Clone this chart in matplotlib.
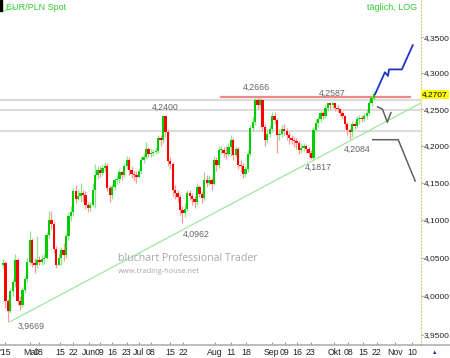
#!/usr/bin/env python3
"""EUR/PLN daily candles, log scale, with trend lines and projections."""
import numpy as np
import matplotlib
matplotlib.use("Agg")
import matplotlib.pyplot as plt
from matplotlib.ticker import FixedLocator, FuncFormatter, NullLocator

plt.rcParams["font.family"] = ["Liberation Sans", "DejaVu Sans"]

# daily candles (open = previous close)
FIRST_OPEN = 4.040
CLOSE = [
    4.043, 3.994, 3.981, 4.006, 4.018, 4.047, 3.994, 3.989, 4.008, 4.022,
    4.045, 4.074, 4.043, 4.041, 4.047, 4.045, 4.048, 4.050, 4.080, 4.100,
    4.094, 4.061, 4.041, 4.050, 4.060, 4.054, 4.078, 4.105, 4.110, 4.138,
    4.128, 4.132, 4.136, 4.133, 4.120, 4.116, 4.120, 4.140, 4.160, 4.167,
    4.163, 4.170, 4.172, 4.143, 4.133, 4.144, 4.153, 4.155, 4.164, 4.160,
    4.172, 4.181, 4.167, 4.162, 4.160, 4.158, 4.165, 4.180, 4.185, 4.196,
    4.189, 4.190, 4.191, 4.193, 4.210, 4.207, 4.240, 4.218, 4.179, 4.175,
    4.140, 4.136, 4.131, 4.113, 4.109, 4.115, 4.136, 4.132, 4.128, 4.124,
    4.144, 4.135, 4.129, 4.154, 4.150, 4.154, 4.148, 4.181, 4.173, 4.194,
    4.194, 4.190, 4.189, 4.198, 4.208, 4.187, 4.195, 4.174, 4.172, 4.162,
    4.168, 4.189, 4.224, 4.232, 4.2625, 4.256, 4.262, 4.225, 4.208, 4.216,
    4.222, 4.240, 4.235, 4.215, 4.216, 4.222, 4.220, 4.214, 4.210, 4.208,
    4.206, 4.204, 4.194, 4.197, 4.199, 4.195, 4.190, 4.183, 4.221, 4.231,
    4.236, 4.244, 4.240, 4.252, 4.258, 4.255, 4.258, 4.252, 4.250, 4.244,
    4.240, 4.230, 4.221, 4.218, 4.230, 4.227, 4.236, 4.238, 4.236, 4.240,
    4.245, 4.258, 4.265, 4.2707,
]
HIGH = [
    4.048, 4.046, 3.996, 4.010, 4.022, 4.055, 4.050, 4.000, 4.012, 4.026,
    4.050, 4.085, 4.076, 4.050, 4.078, 4.052, 4.054, 4.056, 4.084, 4.112,
    4.112, 4.098, 4.066, 4.056, 4.064, 4.070, 4.082, 4.110, 4.118, 4.143,
    4.146, 4.140, 4.150, 4.140, 4.138, 4.124, 4.124, 4.150, 4.175, 4.172,
    4.172, 4.175, 4.178, 4.176, 4.146, 4.148, 4.156, 4.160, 4.168, 4.166,
    4.176, 4.186, 4.184, 4.172, 4.166, 4.166, 4.170, 4.184, 4.190, 4.205,
    4.198, 4.196, 4.196, 4.198, 4.214, 4.214, 4.2400, 4.238, 4.222, 4.184,
    4.178, 4.146, 4.140, 4.134, 4.118, 4.122, 4.140, 4.140, 4.136, 4.132,
    4.150, 4.146, 4.138, 4.164, 4.160, 4.160, 4.158, 4.186, 4.184, 4.200,
    4.200, 4.198, 4.200, 4.204, 4.214, 4.210, 4.200, 4.198, 4.180, 4.176,
    4.172, 4.194, 4.228, 4.240, 4.2666, 4.2666, 4.266, 4.264, 4.230, 4.222,
    4.228, 4.246, 4.246, 4.238, 4.222, 4.228, 4.230, 4.224, 4.218, 4.214,
    4.212, 4.210, 4.208, 4.202, 4.204, 4.202, 4.198, 4.194, 4.226, 4.236,
    4.240, 4.248, 4.248, 4.256, 4.2587, 4.2587, 4.2587, 4.2587, 4.255, 4.252,
    4.248, 4.242, 4.232, 4.224, 4.234, 4.234, 4.240, 4.242, 4.242, 4.244,
    4.250, 4.262, 4.268, 4.2745,
]
LOW = [
    4.036, 3.985, 3.9669, 3.978, 4.000, 4.012, 3.988, 3.982, 3.986, 4.004,
    4.018, 4.040, 4.038, 4.030, 4.036, 4.040, 4.040, 4.042, 4.048, 4.076,
    4.088, 4.056, 4.036, 4.040, 4.040, 4.046, 4.050, 4.074, 4.098, 4.105,
    4.122, 4.126, 4.124, 4.124, 4.114, 4.110, 4.112, 4.118, 4.116, 4.155,
    4.158, 4.160, 4.164, 4.138, 4.124, 4.128, 4.140, 4.148, 4.150, 4.154,
    4.158, 4.168, 4.160, 4.156, 4.152, 4.150, 4.156, 4.162, 4.176, 4.182,
    4.184, 4.184, 4.186, 4.188, 4.190, 4.200, 4.204, 4.212, 4.172, 4.168,
    4.132, 4.128, 4.124, 4.106, 4.0962, 4.104, 4.112, 4.126, 4.120, 4.116,
    4.120, 4.130, 4.122, 4.126, 4.144, 4.146, 4.140, 4.146, 4.166, 4.170,
    4.188, 4.184, 4.182, 4.186, 4.186, 4.180, 4.184, 4.168, 4.164, 4.156,
    4.158, 4.164, 4.186, 4.220, 4.228, 4.250, 4.252, 4.220, 4.200, 4.204,
    4.212, 4.218, 4.230, 4.190, 4.208, 4.212, 4.214, 4.208, 4.202, 4.202,
    4.198, 4.196, 4.188, 4.190, 4.192, 4.190, 4.184, 4.1817, 4.180, 4.218,
    4.226, 4.232, 4.236, 4.238, 4.248, 4.250, 4.252, 4.248, 4.246, 4.240,
    4.236, 4.224, 4.214, 4.2084, 4.212, 4.222, 4.224, 4.230, 4.232, 4.234,
    4.236, 4.242, 4.254, 4.262,
]

# x-axis labels (trading-day index, text)
XTICK_POS = [0.8, 11.1, 14.8, 23.5, 28.9, 35.5, 40.0, 45.0, 51.1, 56.1, 61.0,
             68.9, 74.3, 87.4, 94.0, 100.2, 110.9, 116.3, 121.4, 127.0,
             136.5, 142.3, 148.5, 154.2, 161.7, 168.7]
XTICK_LAB = ["'15", "Mai", "08", "15", "22", "Jun", "09", "16", "23", "Jul",
             "08", "15", "22", "Aug", "11", "18", "Sep", "09", "16", "23",
             "Okt", "08", "15", "22", "Nov", "10"]
YTICKS = [3.95, 4.00, 4.05, 4.10, 4.15, 4.20, 4.25, 4.30, 4.35]

# marked extremes and where their labels sit
MARK_VAL = [3.9669, 4.2400, 4.0962, 4.2666, 4.1817, 4.2587, 4.2084]
MARK_LX = [11.5, 66.8, 79.6, 104.7, 129.9, 135.7, 146.0]
MARK_LY = [3.9615, 4.2529, 4.0814, 4.2805, 4.1710, 4.2722, 4.1954]

# drawing objects
TREND_X = [2.9, 172.4]
TREND_Y = [3.9669, 4.2584]
RESIST_X = [90.0, 168.0]
RESIST_Y = 4.2666
HLINES = [4.2625, 4.2487, 4.2200]
BLUE_X = [153.5, 157.5, 158.8, 159.2, 164.5, 169.0]
BLUE_Y = [4.2707, 4.3010, 4.2960, 4.3050, 4.3050, 4.3390]
GREYV_X = [154.5, 156.5, 158.5, 160.0]
GREYV_Y = [4.2530, 4.2500, 4.2320, 4.2450]
GREYD_X = [152.5, 163.0, 170.0]
GREYD_Y = [4.2080, 4.2080, 4.1520]
LAST = 4.2707
YLIM = (3.937, 4.403)


def fmt(v):
    return f"{v:.4f}".replace(".", ",")


def main():
    close = np.array(CLOSE)
    high = np.array(HIGH)
    low = np.array(LOW)
    opn = np.r_[FIRST_OPEN, close[:-1]]
    x = np.arange(len(close))
    up = close >= opn

    fig = plt.figure(figsize=(4.5, 3.58), dpi=100)
    ax = fig.add_axes([0, 13 / 358, 421 / 450, 345 / 358])
    ax.set_yscale("log")
    ax.set_xlim(-1.24, 172.4)
    ax.set_ylim(*YLIM)

    for h in HLINES:
        ax.axhline(h, color="#dcdcdc", lw=1.5, zorder=1)
    ax.plot(RESIST_X, [RESIST_Y] * 2, color="#f08888", lw=1.6, zorder=2)
    ax.plot(TREND_X, TREND_Y, color="#a0e8a0", lw=0.9, zorder=2)

    wick_col = np.where(up, "#8ee68e", "#ff9a9a")
    ax.vlines(x, low, high, colors=wick_col, lw=0.9, zorder=3)
    body_col = np.where(up, "#00cc00", "#ff0000")
    bottom = np.minimum(opn, close)
    height = np.maximum(np.abs(close - opn), 0.0008)
    ax.bar(x, height, bottom=bottom, width=0.95, color=body_col, lw=0, zorder=4)

    ax.plot(BLUE_X, BLUE_Y, color="#2233cc", lw=1.3, zorder=5)
    ax.plot(GREYV_X, GREYV_Y, color="#606060", lw=1.1, zorder=5)
    ax.plot(GREYD_X, GREYD_Y, color="#606060", lw=1.1, zorder=5)

    for v, lx, ly in zip(MARK_VAL, MARK_LX, MARK_LY):
        ax.text(lx, ly, fmt(v), ha="center", va="center", fontsize=6.3,
                color="#666666")

    ax.text(1.3, 4.399, "EUR/PLN Spot", fontsize=6.5, color="#33cc33",
            va="top", ha="left")
    ax.text(171.0, 4.399, "täglich, LOG", fontsize=6.5, color="#33cc33",
            va="top", ha="right")
    ax.plot([-0.4, 4.9], [4.3868, 4.3924], color="#a0e8a0", lw=0.9)
    ax.text(47.5, 4.0462, "bluchart Professional Trader", fontsize=7.6,
            color="#a8a8a8", family="Open Sans")
    ax.text(47.5, 4.0306, "www.trading-house.net", fontsize=5.4,
            color="#a8a8a8", family="Open Sans")

    ax.yaxis.tick_right()
    ax.yaxis.set_major_locator(FixedLocator(YTICKS))
    ax.yaxis.set_minor_locator(NullLocator())
    ax.yaxis.set_major_formatter(FuncFormatter(lambda v, p: fmt(v)))
    ax.tick_params(axis="y", labelsize=6.0, length=1.5, pad=0.5,
                   color="#999999", labelcolor="#222222")
    ax.set_xticks(XTICK_POS)
    ax.set_xticklabels(XTICK_LAB)
    ax.tick_params(axis="x", labelsize=6.3, length=2, direction="in", pad=2,
                   color="#999999", labelcolor="#222222")

    ypos = np.log(LAST / YLIM[0]) / np.log(YLIM[1] / YLIM[0])
    ax.text(1.003, ypos, fmt(LAST), transform=ax.transAxes, fontsize=6.0,
            va="center", ha="left",
            bbox=dict(boxstyle="square,pad=0.12", fc="#ffff00", ec="none"))

    for s in ("top", "left"):
        ax.spines[s].set_visible(False)
    ax.spines["right"].set_color("#e6c285")
    ax.spines["right"].set_linestyle((0, (1, 2)))
    ax.spines["bottom"].set_color("#b0b0b0")
    ax.spines["bottom"].set_linewidth(1.2)

    fig.patches.append(plt.Rectangle((0, 0.97), 0.004, 0.03, color="black",
                                     transform=fig.transFigure))
    fig.text(0.965, 0.012, "▲", fontsize=4, color="#203080", ha="center")
    fig.add_artist(plt.Line2D([421 / 450, 1], [13 / 358] * 2,
                              color="#b0b0b0", lw=1.2))

    fig.savefig("out.png", dpi=100)
    plt.close(fig)


if __name__ == "__main__":
    main()
